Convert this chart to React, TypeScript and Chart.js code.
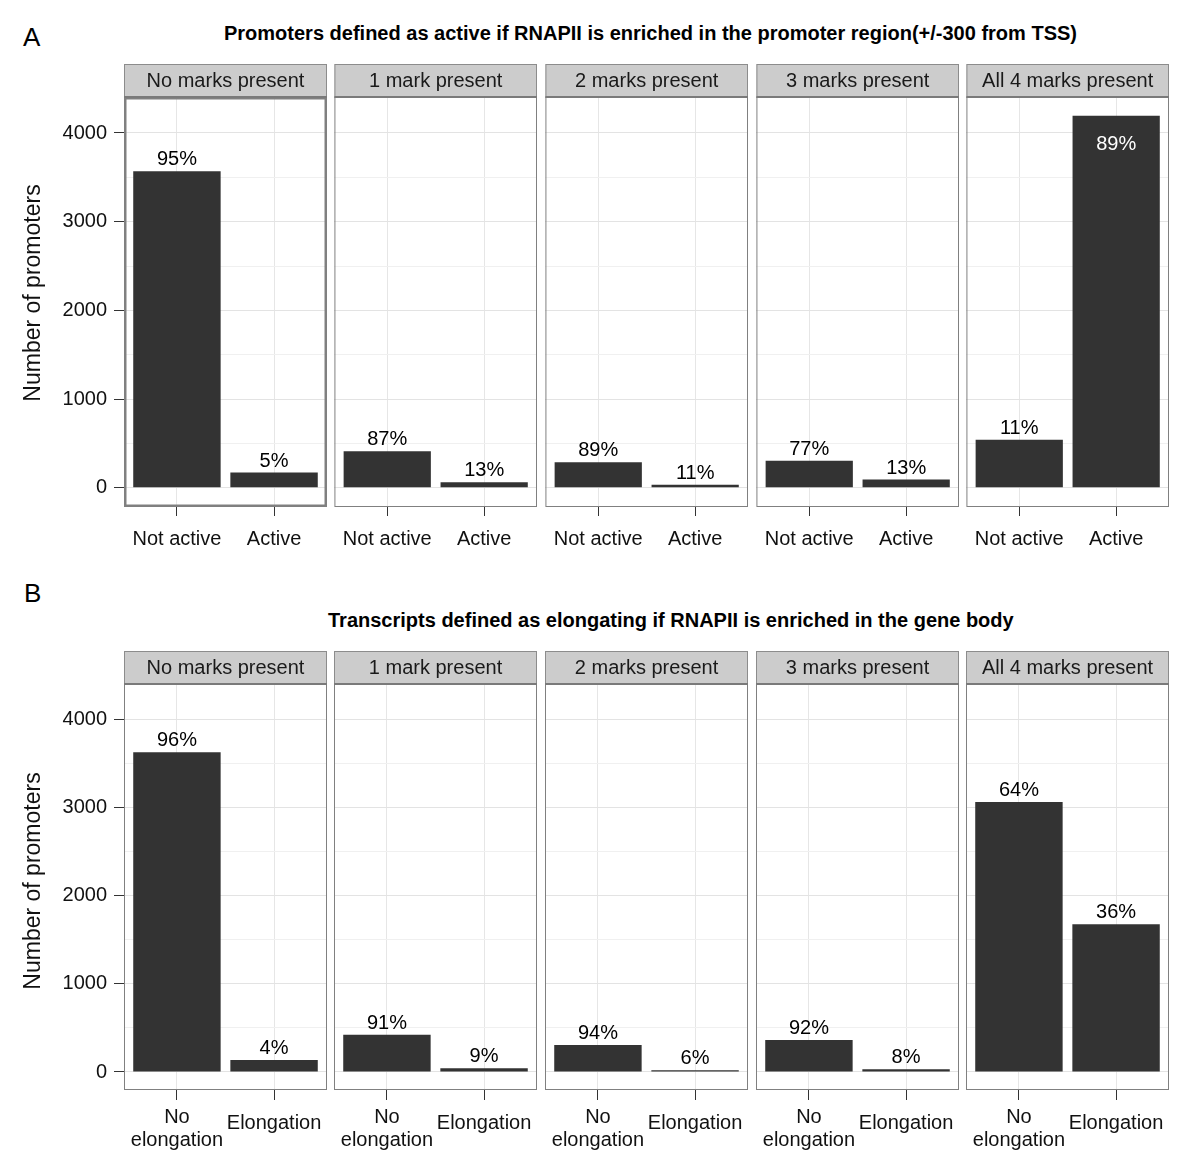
import React, { useEffect, useRef } from "react";
import { Chart, registerables } from "chart.js";

Chart.register(...registerables);

const FONT = '"Liberation Sans", Arial, Helvetica, sans-serif';

// ---------- data ----------
const facetLabels = ["No marks present", "1 mark present", "2 marks present", "3 marks present", "All 4 marks present"];

const categoriesA: (string | string[])[] = ["Not active", "Active"];
const notActiveA = [3570, 410, 286, 304, 541];
const activeA = [170, 61, 34, 92, 4195];
const pctNotActiveA = ["95%", "87%", "89%", "77%", "11%"];
const pctActiveA = ["5%", "13%", "11%", "13%", "89%"];

const categoriesB: (string | string[])[] = [["No", "elongation"], "Elongation"];
const noElongB = [3624, 422, 306, 362, 3061];
const elongB = [135, 42, 20, 32, 1673];
const pctNoElongB = ["96%", "91%", "94%", "92%", "64%"];
const pctElongB = ["4%", "9%", "6%", "8%", "36%"];

const yTickValues = [0, 1000, 2000, 3000, 4000];
const yGridValues = [0, 500, 1000, 1500, 2000, 2500, 3000, 3500, 4000];

const titleA = "Promoters defined as active if RNAPII is enriched in the promoter region(+/-300 from TSS)";
const titleB = "Transcripts defined as elongating if RNAPII is enriched in the gene body";
const yTitle = "Number of promoters";

// ---------- layout ----------
const panelLefts = [124, 334, 545, 756, 966];
const PANEL_W = 203;

type RowSpec = {
  stripTop: number;
  panelTop: number;
  panelBottom: number;
  canvasBottom: number;
  yMin: number;
  yMax: number;
  categories: (string | string[])[];
  series: number[][];
  pcts: string[][];
  tickLen: number;
  tickPad: number;
  thickFirst: boolean;
  singleLineHeight: number;
  multiLineHeight: number;
  yTitleShift: number;
};

const rowA: RowSpec = {
  stripTop: 64,
  panelTop: 97,
  panelBottom: 507,
  canvasBottom: 560,
  yMin: -218,
  yMax: 4406,
  categories: categoriesA,
  series: [notActiveA, activeA],
  pcts: [pctNotActiveA, pctActiveA],
  tickLen: 9,
  tickPad: 11,
  thickFirst: true,
  singleLineHeight: 1.2,
  multiLineHeight: 1.2,
  yTitleShift: -9,
};

const rowB: RowSpec = {
  stripTop: 651,
  panelTop: 684,
  panelBottom: 1090,
  canvasBottom: 1165,
  yMin: -204,
  yMax: 4397,
  categories: categoriesB,
  series: [noElongB, elongB],
  pcts: [pctNoElongB, pctElongB],
  tickLen: 10,
  tickPad: 6,
  thickFirst: false,
  singleLineHeight: 1.735,
  multiLineHeight: 1.135,
  yTitleShift: -6,
};

function Panel({ row, index }: { row: RowSpec; index: number }) {
  const ref = useRef<HTMLCanvasElement | null>(null);
  const first = index === 0;
  const pl = panelLefts[index];
  const left = first ? 0 : pl - 3;
  const top = row.stripTop - 3;
  const width = pl + PANEL_W + 3 - left;
  const height = row.canvasBottom - top;

  useEffect(() => {
    const canvas = ref.current;
    if (!canvas) return;
    const cats = row.categories;
    const values = row.series.map((s) => s[index]);
    const labels = row.pcts.map((p) => p[index]);
    const stripH = row.panelTop - row.stripTop;
    const borderW = row.thickFirst && first ? 2.5 : 1;

    const facetPlugin = {
      id: "facet",
      afterDatasetsDraw(chart: any) {
        const { ctx, chartArea: a } = chart;
        const meta = chart.getDatasetMeta(0);
        ctx.save();
        // percentage labels
        ctx.font = `20px ${FONT}`;
        ctx.textAlign = "center";
        ctx.textBaseline = "alphabetic";
        meta.data.forEach((el: any, k: number) => {
          const x = el.x;
          const y = el.y;
          const base = y - 6;
          if (base - 16 < a.top + 2) {
            ctx.fillStyle = "#ffffff";
            ctx.fillText(labels[k], x, y + 34);
          } else {
            ctx.fillStyle = "#000000";
            ctx.fillText(labels[k], x, base);
          }
        });
        // panel border
        ctx.strokeStyle = "#808080";
        ctx.lineWidth = borderW;
        const ins = borderW / 2;
        ctx.strokeRect(a.left + ins, a.top + ins, a.width - borderW, a.height - borderW);
        // strip
        const sTop = a.top - stripH;
        ctx.fillStyle = "#cccccc";
        ctx.fillRect(a.left, sTop, a.width, stripH);
        ctx.lineWidth = 1;
        ctx.strokeStyle = "#8c8c8c";
        ctx.strokeRect(a.left + 0.5, sTop + 0.5, a.width - 1, stripH);
        ctx.strokeStyle = "#7a7a7a";
        ctx.lineWidth = 2;
        ctx.beginPath();
        ctx.moveTo(a.left, a.top);
        ctx.lineTo(a.right, a.top);
        ctx.stroke();
        ctx.fillStyle = "#1a1a1a";
        ctx.textBaseline = "middle";
        ctx.font = `20px ${FONT}`;
        ctx.fillText(facetLabels[index], (a.left + a.right) / 2, sTop + stripH / 2 + 1);
        // y-axis title (first panel only)
        if (first) {
          ctx.translate(34, (a.top + a.bottom) / 2 + row.yTitleShift);
          ctx.rotate(-Math.PI / 2);
          ctx.font = `23px ${FONT}`;
          ctx.fillStyle = "#111111";
          ctx.textAlign = "center";
          ctx.textBaseline = "middle";
          ctx.fillText(yTitle, 0, 0);
        }
        ctx.restore();
      },
    };

    const chart = new Chart(canvas, {
      type: "bar",
      data: {
        datasets: [
          {
            data: values.map((v, k) => ({ x: k, y: v })) as any,
            backgroundColor: "#333333",
            borderWidth: 0,
            categoryPercentage: 1,
            barPercentage: 0.9,
          },
        ],
      },
      options: {
        animation: false,
        responsive: false,
        devicePixelRatio: 1,
        events: [],
        layout: { padding: { top: stripH + 3, left: first ? 0 : 3, right: 3, bottom: 0 } },
        plugins: {
          legend: { display: false },
          tooltip: { enabled: false },
          title: { display: false },
        },
        scales: {
          x: {
            type: "linear",
            min: -0.545,
            max: 1.545,
            offset: false,
            grid: {
              offset: false,
              color: "#e6e6e6",
              lineWidth: 1,
              tickColor: "#333333",
              tickLength: row.tickLen,
              drawTicks: true,
            },
            border: { display: false },
            afterBuildTicks: (s: any) => {
              s.ticks = cats.map((_, k) => ({ value: k }));
            },
            afterFit: (s: any) => {
              s.height = row.canvasBottom - row.panelBottom;
            },
            ticks: {
              autoSkip: false,
              maxRotation: 0,
              minRotation: 0,
              padding: row.tickPad,
              color: "#111111",
              font: (c: any) => ({
                family: FONT,
                size: 20,
                lineHeight: Array.isArray(cats[c.index]) ? row.multiLineHeight : row.singleLineHeight,
              }),
              callback: (v: any) => cats[v as number] as any,
            },
          } as any,
          y: {
            type: "linear",
            min: row.yMin,
            max: row.yMax,
            grid: {
              color: (c: any) => (c.tick && c.tick.value % 1000 === 0 ? "#e3e3e3" : "#f0f0f0"),
              tickColor: (c: any) => (c.tick && c.tick.value % 1000 === 0 ? "#333333" : "rgba(0,0,0,0)"),
              tickLength: 10,
              drawTicks: first,
            },
            border: { display: false },
            afterBuildTicks: (s: any) => {
              s.ticks = yGridValues.map((v) => ({ value: v }));
            },
            afterFit: (s: any) => {
              s.width = first ? pl : 0;
            },
            ticks: {
              display: first,
              autoSkip: false,
              padding: 7,
              color: "#111111",
              font: { family: FONT, size: 20 },
              callback: (v: any) => (yTickValues.includes(v) ? String(v) : ""),
            },
            title: { display: false },
          } as any,
        },
      },
      plugins: [facetPlugin],
    });
    return () => chart.destroy();
  }, []);

  return (
    <canvas
      ref={ref}
      width={width}
      height={height}
      style={{ position: "absolute", left, top, width, height }}
    />
  );
}

export default function App() {
  const rows = [rowA, rowB];
  return (
    <div
      style={{
        position: "absolute",
        left: 0,
        top: 0,
        width: 1200,
        height: 1172,
        background: "#ffffff",
        fontFamily: FONT,
        color: "#000",
        overflow: "hidden",
      }}
    >
      <div style={{ position: "absolute", left: 23, top: 24, fontSize: 26, lineHeight: "26px" }}>A</div>
      <div
        style={{
          position: "absolute",
          left: 224,
          top: 23,
          fontSize: 20,
          fontWeight: "bold",
          lineHeight: "20px",
          whiteSpace: "nowrap",
        }}
      >
        {titleA}
      </div>
      <div style={{ position: "absolute", left: 24, top: 580, fontSize: 26, lineHeight: "26px" }}>B</div>
      <div
        style={{
          position: "absolute",
          left: 328,
          top: 610,
          fontSize: 20,
          fontWeight: "bold",
          lineHeight: "20px",
          whiteSpace: "nowrap",
        }}
      >
        {titleB}
      </div>
      {rows.map((row, r) => panelLefts.map((_, i) => <Panel key={`${r}-${i}`} row={row} index={i} />))}
    </div>
  );
}
